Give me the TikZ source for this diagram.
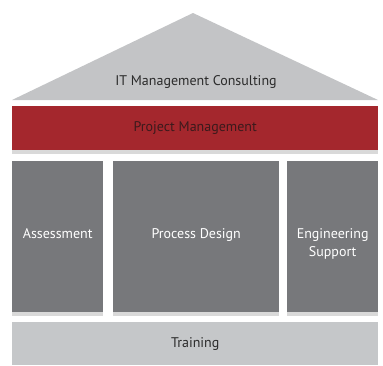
\documentclass[tikz,border=0pt]{standalone}
\usepackage{fontspec}
\setmainfont{PT Sans}
\usetikzlibrary{positioning,shadows}

\definecolor{roofgray}{HTML}{C3C4C6}
\definecolor{bandred}{HTML}{A4272D}
\definecolor{pillargray}{HTML}{77787B}
\definecolor{basegray}{HTML}{C5C7C9}
\definecolor{darktext}{HTML}{2B2B2B}
\definecolor{redtext}{HTML}{3B1A1C}

\tikzset{
  block/.style={inner sep=0pt, anchor=north west},
  soft/.style={drop shadow={shadow xshift=0pt, shadow yshift=-4pt, opacity=0.25, fill=black!60}},
  caption/.style={font=\fontsize{14}{18}\selectfont, align=center},
}

\begin{document}
\begin{tikzpicture}[x=1pt,y=-1pt]
            \useasboundingbox (0,0) rectangle (383,365);
            % roof
            \fill[roofgray] (12,100) -- (193,13) -- (378,100) -- cycle;
            \node[caption, text=darktext] (roof) at (196,82) {IT Management Consulting};
            % red band
            \node[block, fill=bandred, soft, minimum width=366, minimum height=44] (band) at (12,106) {};
            \node[caption, text=redtext] (bandtext) at (band.center) {Project Management};
            % pillars
            \node[block, fill=pillargray, soft, minimum width=91, minimum height=151] (assess) at (12,161) {};
            \node[block, fill=pillargray, soft, minimum width=166, minimum height=151] (process) at (113,161) {};
            \node[block, fill=pillargray, soft, minimum width=91, minimum height=151] (engineer) at (287,161) {};
            \node[caption, text=white, anchor=north] (assesstext) at ([yshift=-64]assess.north) {Assessment};
            \node[caption, text=white, anchor=north] (processtext) at ([yshift=-64]process.north) {Process Design};
            \node[caption, text=white, anchor=north] (engineertext) at ([yshift=-64]engineer.north) {Engineering\\Support};
            % base
            \node[block, fill=basegray, minimum width=366, minimum height=43] (base) at (12,322) {};
            \node[caption, text=darktext] (basetext) at (base.center) {Training};
        \end{tikzpicture}
\end{document}
